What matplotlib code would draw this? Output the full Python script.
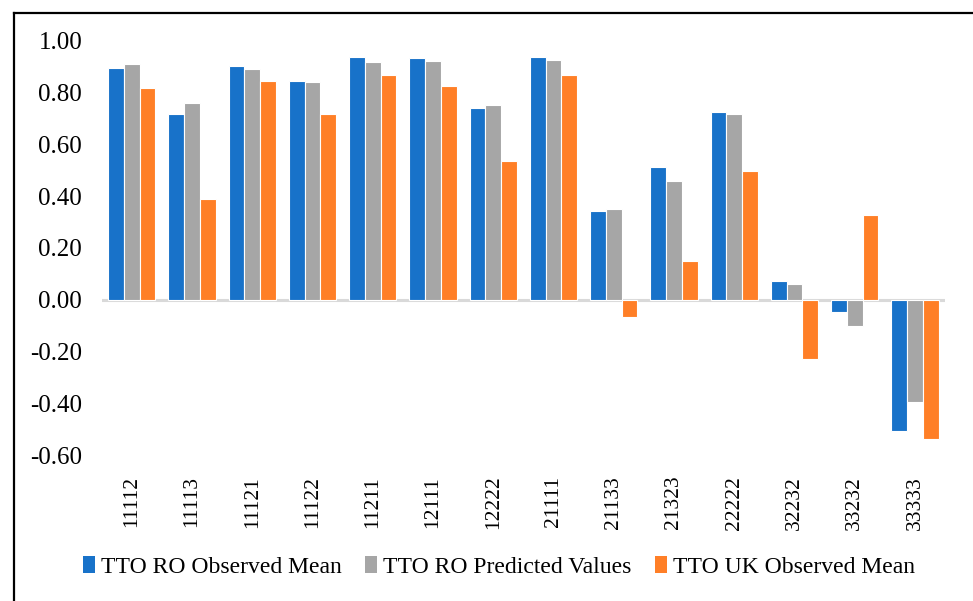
import matplotlib
matplotlib.use("Agg")
import matplotlib.pyplot as plt
import numpy as np
from matplotlib.patches import Patch
from matplotlib.lines import Line2D

categories = ["11112", "11113", "11121", "11122", "11211", "12111", "12222",
              "21111", "21133", "21323", "22222", "32232", "33232", "33333"]
ro_observed = [0.893, 0.715, 0.901, 0.843, 0.936, 0.932, 0.741,
               0.937, 0.343, 0.512, 0.726, 0.072, -0.046, -0.509]
ro_predicted = [0.910, 0.758, 0.892, 0.839, 0.919, 0.923, 0.753,
                0.926, 0.349, 0.460, 0.715, 0.062, -0.102, -0.397]
uk_observed = [0.816, 0.387, 0.846, 0.715, 0.866, 0.825, 0.536,
               0.866, -0.068, 0.148, 0.496, -0.229, 0.325, -0.539]
series_names = ["TTO RO Observed Mean", "TTO RO Predicted Values", "TTO UK Observed Mean"]
colors = ["#1872C9", "#A6A6A6", "#FF7F27"]
yticks = [-0.6, -0.4, -0.2, 0.0, 0.2, 0.4, 0.6, 0.8, 1.0]

plt.rcParams['font.family'] = ['Liberation Serif', 'DejaVu Serif']

fig = plt.figure(figsize=(9.73, 6.01), dpi=100)
ax = fig.add_axes([0.1044, 0.2429, 0.8669, 0.6894])

x = np.arange(len(categories))
w = 0.262
for i, (vals, c) in enumerate(zip([ro_observed, ro_predicted, uk_observed], colors)):
    ax.bar(x + (i - 1) * w, vals, width=w, color=c, edgecolor="white", linewidth=0.8, zorder=2)

ax.set_xlim(-0.5, len(categories) - 0.5)
ax.set_ylim(-0.6, 1.0)
ax.axhline(0, color="#D9D9D9", linewidth=2.2, zorder=1)
for s in ax.spines.values():
    s.set_visible(False)
ax.set_yticks(yticks)
ax.set_yticklabels([f"{v:.2f}" for v in yticks], fontsize=18)
ax.tick_params(axis="y", length=0, pad=14)
ax.set_xticks(x)
ax.set_xticklabels(categories, rotation=90, fontsize=15.5)
ax.tick_params(axis="x", length=0, pad=15)

handles = [Patch(facecolor=c, edgecolor="none") for c in colors]
fig.legend(handles, series_names, loc="center", bbox_to_anchor=(0.513, 1 - 567 / 601),
           ncol=3, frameon=False, fontsize=17, handlelength=0.5, handleheight=0.7,
           handletextpad=0.25, columnspacing=1.0)

# outer border (top and left)
fig.add_artist(Line2D([13.5 / 973, 13.5 / 973], [0, 1 - 12.5 / 601], transform=fig.transFigure,
                      color="black", linewidth=1.6))
fig.add_artist(Line2D([13.5 / 973, 1], [1 - 12.5 / 601, 1 - 12.5 / 601], transform=fig.transFigure,
                      color="black", linewidth=1.6))

fig.savefig("out.png", dpi=100)
